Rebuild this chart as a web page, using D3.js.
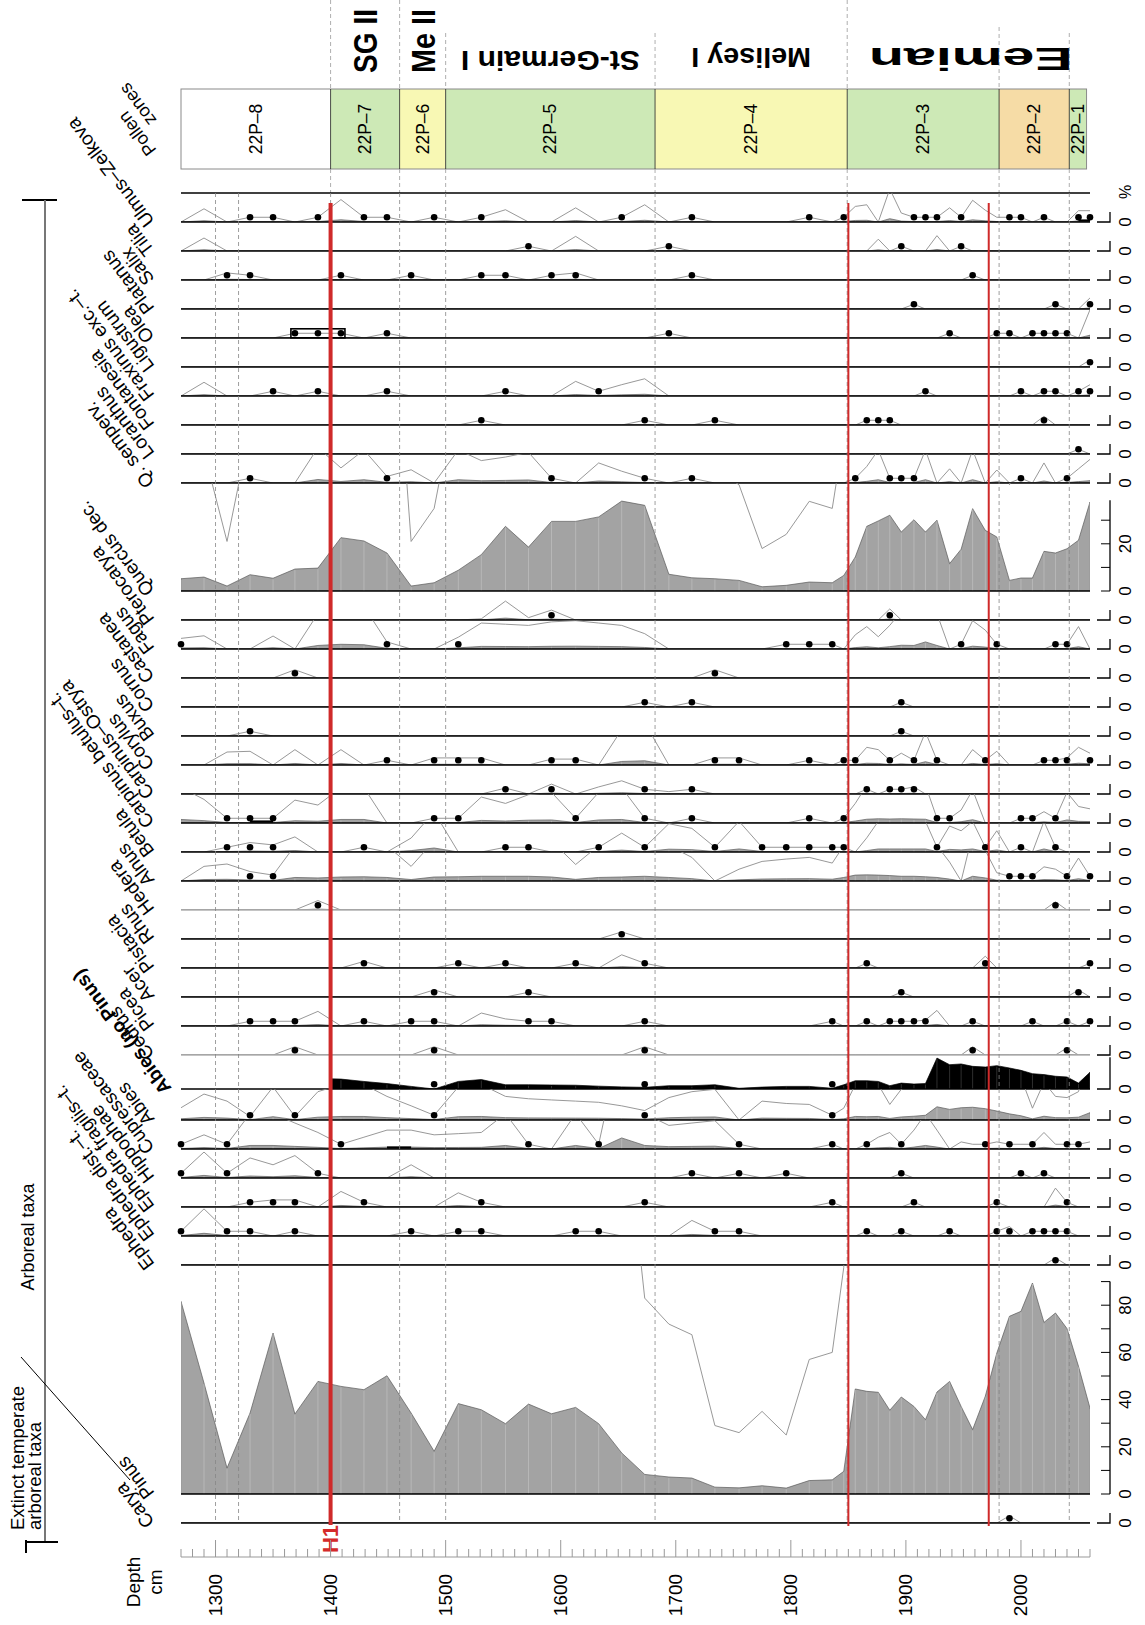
<!DOCTYPE html>
<html><head><meta charset="utf-8">
<script src="https://cdn.jsdelivr.net/npm/d3@7"></script>
<style>
body{margin:0;background:#fff}
svg text{font-family:"Liberation Sans",Arial,Helvetica,sans-serif;fill:#000}
</style>
</head><body>
<script>
// ---------- DATA ----------
const depths = [1270,1290,1310,1330,1350,1369,1389,1409,1429,1449,
 1470,1490,1511,1531,1552,1572,1592,1613,1633,1653,
 1673,1694,1714,1734,1755,1775,1796,1816,1836,1846,
 1856,1866,1876,1886,1896,1907,1917,1927,1938,1948,
 1958,1969,1979,1990,2000,2010,2020,2030,2040,2050,2060];

const ulmus = [0,0.56,0,0.2,0.2,0,0.2,0.95,0.2,0.2, 0,0.2,0,0.2,0.52,0,0,0.6,0,0.2, 0.73,0,0.2,0,0,0,0,0.2,0,0.2, 0.66,0.73,0,1.4,0.38,0.2,0.2,0.2,0.6,0.2, 0.92,0.5,0.2,0.2,0.2,0,0.2,0,0,0.48, 0.48];
const ulmusDots = [3,4,6,8,9,11,13,19,22,27,29,35,36,37,39,43,44,46,49,50];
const tilia = [0,0.55,0,0,0,0,0,0,0,0, 0,0,0,0,0,0.2,0,0.62,0,0, 0,0.2,0,0,0,0,0,0,0,0, 0,0,0.5,0,0.2,0,0,0.65,0,0.2, 0,0,0,0,0,0,0,0,0,0, 0];
const tiliaDots = [15,21,34,39];
const salix = [0,0,0.3,0.2,0,0,0,0.2,0,0, 0.2,0,0,0.2,0.2,0,0.2,0.3,0,0, 0,0,0.2,0,0,0,0,0,0,0, 0,0,0,0,0,0,0,0,0,0, 0.2,0,0,0,0,0,0,0,0,0, 0];
const salixDots = [2,3,7,10,13,14,16,17,22,40];
const platanus = [0,0,0,0,0,0,0,0,0,0, 0,0,0,0,0,0,0,0,0,0, 0,0,0,0,0,0,0,0,0,0, 0,0,0,0,0,0.2,0,0,0,0, 0,0,0,0,0,0,0,0.2,0,0, 0.47];
const platanusDots = [35,47,50];
const olea = [0,0,0,0,0,0.2,0.2,0.2,0,0.2, 0,0,0,0,0,0,0,0,0,0, 0,0.2,0,0,0,0,0,0,0,0, 0,0,0,0,0,0,0,0,0.2,0, 0,0,0.2,0.2,0,0.2,0.2,0.2,0.2,0, 1.2];
const oleaDots = [5,6,7,9,21,38,42,43,45,46,47,48];
const ligustrum = [0,0,0,0,0,0,0,0,0,0, 0,0,0,0,0,0,0,0,0,0, 0,0,0,0,0,0,0,0,0,0, 0,0,0,0,0,0,0,0,0,0, 0,0,0,0,0,0,0,0,0,0, 0.3];
const ligustrumDots = [50];
const fraxinus = [0,0.58,0,0,0.2,0,0.2,0,0,0.2, 0,0,0,0,0.2,0,0,0.62,0.2,0.48, 0.73,0,0,0,0,0,0,0,0,0, 0,0,0,0,0,0,0.2,0,0,0, 0,0,0,0,0.2,0,0.2,0.2,0,0.2, 0.48];
const fraxinusDots = [4,6,9,14,18,36,44,46,47,49,50];
const fontanesia = [0,0,0,0,0,0,0,0,0,0, 0,0,0,0.2,0,0,0,0,0,0, 0.2,0,0,0.2,0,0,0,0,0,0, 0,0.2,0.2,0.2,0,0,0,0,0,0, 0,0,0,0,0,0,0.37,0,0,0, 0];
const fontanesiaDots = [13,20,23,31,32,33,46];
const loranthus = [0,0,0,0,0,0,0,0,0,0, 0,0,0,0,0,0,0,0,0,0, 0,0,0,0,0,0,0,0,0,0, 0,0,0,0,0,0,0,0,0,0, 0,0,0,0,0,0,0,0,0,0.2, 0];
const loranthusDots = [49];
const qSemperv = [0,0,0,0.2,0,0,1.5,0.64,1.4,0.28, 0.56,0,1.4,0.95,1.1,1.3,0.2,0,0.85,0.5, 0.2,0,0.2,0,0,0,0,0,0,0, 0.2,0.7,1.4,0.2,0.2,0.2,1.4,0,0.6,0, 1.4,0,0.55,0,0.2,0,0.85,0,0.2,0.6, 1.0];
const qSempervDots = [3,9,16,20,22,30,33,34,35,44,48];
const quercus = [5.2,5.9,2.1,6.9,5.4,9.3,9.7,22.6,21.2,16.1, 2.1,3.5,8.8,15.4,27.4,18.6,29.5,29.5,31.4,38.1, 36.3,7.1,5.6,5.2,4.5,1.8,2.4,3.8,3.5,6.6, 14.4,27.4,29.7,32.1,25,30.2,25,30,11.6,17.7, 34.9,25.7,22.9,4.5,5.5,5.5,16.8,16.1,17.9,21.5, 37.7];
const pterocarya = [0,0,0,0,0,0,0,0,0,0, 0,0,0,0.05,0.8,0.1,0.42,0,0,0, 0,0,0,0,0,0,0,0,0,0, 0,0,0,0.47,0,0,0,0,0,0, 0,0,0,0,0,0,0,0,0,0, 0];
const pterocaryaDots = [16,33];
const fagus = [0.45,0.56,0,0,0.55,0,1.5,2.0,1.8,0.3, 0,0,0.5,1.1,1.05,1.0,1.15,1.2,1.1,1.0, 0.65,0,0,0,0,0,0.2,0.2,0.2,0, 0.6,0.95,0.52,1.0,1.6,1.5,3.0,1.5,0,0.2, 1.2,0.8,0.2,0,0,0,0,0.2,0.2,0.95, 0];
const fagusDots = [0,9,12,26,27,28,39,42,47,48];
const castanea = [0,0,0,0,0,0.35,0,0,0,0, 0,0,0,0,0,0,0,0,0,0, 0,0,0,0.35,0,0,0,0,0,0, 0,0,0,0,0,0,0,0,0,0, 0,0,0,0,0,0,0,0,0,0, 0];
const castaneaDots = [5,23];
const cornus = [0,0,0,0,0,0,0,0,0,0, 0,0,0,0,0,0,0,0,0,0, 0.2,0,0.2,0,0,0,0,0,0,0, 0,0,0,0,0.2,0,0,0,0,0, 0,0,0,0,0,0,0,0,0,0, 0];
const cornusDots = [20,22,34];
const buxus = [0,0,0,0.2,0,0,0,0,0,0, 0,0,0,0,0,0,0,0,0,0, 0,0,0,0,0,0,0,0,0,0, 0,0,0,0,0.2,0,0,0,0,0, 0,0,0,0,0,0,0,0,0,0, 0];
const buxusDots = [3,34];
const corylus = [0,0,0.55,0.58,0,0.65,0,0.65,0,0.2, 0,0.3,0.3,0.3,0,0,0.25,0.25,0,1.5, 1.8,0,0,0.3,0.3,0,0,0.2,0,0.2, 0.2,0.75,0.65,0.2,0.5,0.2,1.4,0.2,0,0, 0.65,0.2,0.58,0,0,0,0.2,0.2,0.3,0.75, 0.5];
const corylusDots = [9,11,12,13,16,17,23,24,27,29,30,33,35,37,41,46,47,48,50];
const carpOstrya = [0,0,0,0,0,0,0,0,0,0, 0,0,0,0,0.25,0,0.42,0,0.3,0.56, 0.2,0.1,0.2,0,0,0,0,0,0,0, 0,0.2,0,0.2,0.2,0.3,0,0,0,0, 0,0,0,0,0,0,0,0,0,0, 0];
const carpOstryaDots = [14,16,20,22,31,33,34,35];
const carpBetulus = [1.5,1.0,0.2,0.2,0.2,0.97,0.76,1.5,1.5,0, 0,0.2,0.2,1.1,0.83,1.2,1.3,0.2,1.3,1.5, 0.2,0,0.2,0,0,0,0,0.2,0,0.2, 0.83,1.6,1.8,1.7,1.8,1.7,1.6,0.2,0.2,0.55, 1.4,0,0,0,0.2,0.2,0.48,0.2,1.3,0.7, 0.6];
const carpBetulusDots = [2,3,4,11,12,17,20,22,27,29,37,38,44,45,47];
const betula = [0,0,0.2,0.4,0.3,0.64,0,0,0.2,0, 0.59,1.7,0,0,0.2,0.2,0,0,0.2,0.8, 0.2,1.2,1.0,0.2,1.3,0.2,0.2,0.2,0.2,0.2, 0,0.6,1.3,1.3,1.3,1.3,1.3,0.2,1.1,0.9, 1.3,0.2,0.9,0,0.2,0,1.3,0.2,0,0, 0];
const betulaDots = [2,3,4,8,14,15,18,20,23,25,26,27,28,29,37,41,44,47];
const alnus = [0,0.62,0.72,0.4,0.25,1.5,1.3,1.7,1.8,1.5, 0.62,1.7,1.8,2.0,2.0,2.0,1.7,0.7,1.5,1.7, 2.0,1.5,1.0,0,0.5,0.83,0.93,1.0,0.76,1.5, 2.5,2.6,2.5,2.3,2.0,2.0,1.8,1.5,0.8,0, 2.0,1.3,0.35,0.2,0.2,0.2,0.6,0.5,0.2,0.97, 0.2];
const alnusDots = [3,4,43,44,45,48,50];
const hedera = [0,0,0,0,0,0,0.4,0,0,0, 0,0,0,0,0,0,0,0,0,0, 0,0,0,0,0,0,0,0,0,0, 0,0,0,0,0,0,0,0,0,0, 0,0,0,0,0,0,0,0.35,0,0, 0];
const hederaDots = [6,47];
const rhus = [0,0,0,0,0,0,0,0,0,0, 0,0,0,0,0,0,0,0,0,0.3, 0,0,0,0,0,0,0,0,0,0, 0,0,0,0,0,0,0,0,0,0, 0,0,0,0,0,0,0,0,0,0, 0];
const rhusDots = [19];
const pistacia = [0,0,0,0,0,0,0,0,0.28,0, 0,0,0.2,0,0.2,0,0,0.2,0,0.56, 0.2,0,0,0,0,0,0,0,0,0, 0,0.2,0,0,0,0,0,0,0,0, 0,0.5,0,0,0,0,0,0,0,0, 0.2];
const pistaciaDots = [8,12,14,17,20,31,41,50];
const acer = [0,0,0,0,0,0,0,0,0,0, 0,0.3,0,0,0,0.2,0,0,0,0, 0,0,0,0,0,0,0,0,0,0, 0,0,0,0,0.2,0,0,0,0,0, 0,0,0,0,0,0,0,0,0,0.3, 0];
const acerDots = [11,15,34,49];
const picea = [0,0,0,0.2,0.2,0.2,0.62,0,0.2,0, 0.2,0.2,0,0.55,0.3,0.2,0.2,0,0,0, 0.2,0,0,0,0,0,0,0,0.2,0, 0,0.2,0,0.2,0.2,0.2,0.25,0.66,0,0, 0.2,0,0,0,0,0.2,0,0,0.2,0, 0.2];
const piceaDots = [3,4,5,8,10,11,15,16,20,28,31,33,34,35,36,40,45,48,50];
const cedrus = [0,0,0,0,0,0.35,0,0,0,0, 0,0.35,0,0,0,0,0,0,0,0, 0.35,0,0,0,0,0,0,0,0,0, 0,0,0,0,0,0,0,0,0,0, 0.35,0,0,0,0,0,0,0,0.3,0, 0];
const cedrusDots = [5,11,20,40,48];
const abiesNoPinus = [null,null,null,null,null,null,4.4,4.2,3.2,2.3, 1.1,0,3.2,4.0,1.8,1.8,1.7,1.6,1.2,0.9, 0.7,1.4,1.4,1.8,0.3,0.8,1.1,1.1,0.3,1.8, 3.5,3.5,3.2,1.4,2.5,2.1,2.3,13.1,10.3,10.6, 9.6,9.3,9.9,8.9,7.9,6.5,6.1,5.4,5.1,2.5, 7.1];
const abiesNoPinusDots = [11,20,28];
const abies = [0.52,1.1,0.8,0.15,1.4,0.15,1.2,1.5,1.5,1.0, 0.6,0.2,1.4,1.5,1.0,0.9,0.85,0.8,0.75,0.6, 0.4,0.95,1.2,1.3,0,0.8,0.7,0.66,0.2,0.5, 1.5,1.4,1.5,0.66,1.3,1.6,2.0,5.6,4.5,5.2, 5.4,4.8,3.8,2.6,1.8,0.5,1.6,1.0,0.95,1.2, 3.1];
const abiesDots = [3,5,11,20,28];
const cupressaceae = [0.2,0.6,0.2,1.5,1.5,1.1,0.7,0.2,0.5,0.8, 0.8,0.6,0.65,0.7,1.5,0.2,0,1.5,0.2,4.7, 1.5,1.0,1.1,1.2,0.2,0,0,0,0.2,0, 0,0.2,0.5,0.7,0.2,0.8,1.5,0.8,0,0.3, 0.2,0.2,0.3,0.2,0.2,0.2,0.7,0.2,0.2,0.2, 0.3];
const cupressaceaeDots = [0,2,7,15,18,24,28,31,34,41,43,45,48,49];
const hippophae = [0.2,1.1,0.2,0.85,0.56,0.95,0.2,0,0,0, 0.56,0,0,0,0,0,0,0,0,0, 0,0,0.2,0,0.2,0,0.2,0,0,0, 0,0,0,0,0.2,0,0,0,0,0, 0,0,0,0,0.2,0,0.2,0,0,0, 0];
const hippophaeDots = [0,2,6,22,24,26,34,44,46];
const ephFragilis = [0,0,0,0.2,0.3,0.3,0,0.66,0.2,0, 0,0,0.6,0.2,0,0,0,0,0,0, 0.2,0,0,0,0,0,0,0,0.2,0, 0,0,0,0,0,0.2,0,0,0,0, 0,0,0.2,0,0,0,0,0.8,0.2,0, 0];
const ephFragilisDots = [3,4,5,8,13,20,28,35,42,48];
const ephDist = [0.2,1.15,0.2,0.2,0,0.2,0,0,0,0, 0.2,0,0.2,0.2,0,0,0,0.2,0.2,0, 0,0,0.66,0.2,0.2,0,0,0,0,0, 0,0.2,0,0,0.2,0,0,0,0.2,0, 0,0,0.2,0.4,0,0.2,0.2,0.2,0.2,0, 0];
const ephDistDots = [0,2,3,5,10,12,13,17,18,23,24,31,34,38,42,43,45,46,47,48];
const ephedraOther = [0,0,0,0,0,0,0,0,0,0, 0,0,0,0,0,0,0,0,0,0, 0,0,0,0,0,0,0,0,0,0, 0,0,0,0,0,0,0,0,0,0, 0,0,0,0,0,0,0,0.3,0,0, 0];
const ephedraOtherDots = [47];
const pinus = [81.6,47.0,11.0,34.3,68.2,33.9,47.7,45.6,44.2,50.1, 34.3,18.1,38.3,35.7,29.8,38.1,34.0,36.7,29.8,17.4, 8.3,7.2,6.75,2.9,2.6,3.5,2.5,5.7,6.0,9.6, 44.5,43.5,43.1,35.5,41.1,37.1,31.5,43.2,47.7,37.1, 27.3,41.4,59.7,75.3,77.4,89.4,72.7,76.7,70.1,54.1, 36.4];
const carya = [0,0,0,0,0,0,0,0,0,0, 0,0,0,0,0,0,0,0,0,0, 0,0,0,0,0,0,0,0,0,0, 0,0,0,0,0,0,0,0,0,0, 0,0,0,0.3,0,0,0,0,0,0, 0];
const caryaDots = [43];
// runs of consecutive presence marks joined by a bar: [taxon, first sample, last sample]
const presenceRuns = [["Olea",5,7],["Carpinus betulus–t.",3,4],["Ulmus–Zelkova",49,50],["Cupressaceae",9,10]];

const zoneNames = ["22P–8","22P–7","22P–6","22P–5","22P–4","22P–3","22P–2","22P–1"];
const zoneBounds = [1270,1400,1460,1500,1682,1849,1981,2042,2057];
const periodNames = ["SG II","Me II","St-Germain I","Melisey I","Eemian"];
const periodBounds = [[1400,1460],[1460,1500],[1500,1682],[1682,1849],[1849,2057]];
const dashDepths = [1300,1320,1400,1460,1500,1682,1849,1981,2042];
const eventDepths = [1400,1850,1972];
const depthTicks = [1300,1400,1500,1600,1700,1800,1900,2000];

// ---------- TABLE ----------
const taxa = [
 {name:"Ulmus–Zelkova", v:ulmus, d:ulmusDots},
 {name:"Tilia", v:tilia, d:tiliaDots},
 {name:"Salix", v:salix, d:salixDots},
 {name:"Platanus", v:platanus, d:platanusDots},
 {name:"Olea", v:olea, d:oleaDots},
 {name:"Ligustrum", v:ligustrum, d:ligustrumDots},
 {name:"Fraxinus exc.–t.", v:fraxinus, d:fraxinusDots},
 {name:"Fontanesia", v:fontanesia, d:fontanesiaDots},
 {name:"Loranthus", v:loranthus, d:loranthusDots},
 {name:"Q. semperv.", v:qSemperv, d:qSempervDots},
 {name:"Quercus dec.", v:quercus, d:[], axisMax:38.5, ticks:[0,10,20,30], labels:[0,20]},
 {name:"Pterocarya", v:pterocarya, d:pterocaryaDots},
 {name:"Fagus", v:fagus, d:fagusDots},
 {name:"Castanea", v:castanea, d:castaneaDots},
 {name:"Cornus", v:cornus, d:cornusDots},
 {name:"Buxus", v:buxus, d:buxusDots},
 {name:"Corylus", v:corylus, d:corylusDots},
 {name:"Carpinus–Ostrya", v:carpOstrya, d:carpOstryaDots},
 {name:"Carpinus betulus–t.", v:carpBetulus, d:carpBetulusDots},
 {name:"Betula", v:betula, d:betulaDots},
 {name:"Alnus", v:alnus, d:alnusDots},
 {name:"Hedera", v:hedera, d:hederaDots, greyBase:true},
 {name:"Rhus", v:rhus, d:rhusDots},
 {name:"Pistacia", v:pistacia, d:pistaciaDots},
 {name:"Acer", v:acer, d:acerDots},
 {name:"Picea", v:picea, d:piceaDots},
 {name:"Cedrus", v:cedrus, d:cedrusDots, greyBase:true},
 {name:"Abies (no Pinus)", v:abiesNoPinus, d:abiesNoPinusDots, black:true, bold:true, axisMax:13.5, from:1400},
 {name:"Abies", v:abies, d:abiesDots},
 {name:"Cupressaceae", v:cupressaceae, d:cupressaceaeDots},
 {name:"Hippophae", v:hippophae, d:hippophaeDots},
 {name:"Ephedra fragilis–t.", v:ephFragilis, d:ephFragilisDots},
 {name:"Ephedra dist.–t.", v:ephDist, d:ephDistDots},
 {name:"Ephedra", v:ephedraOther, d:ephedraOtherDots},
 {name:"Pinus", v:pinus, d:[], axisMax:90, ticks:[0,10,20,30,40,50,60,70,80,90], labels:[0,20,40,60,80]},
 {name:"Carya", v:carya, d:caryaDots}
];
const rowHeight = {"Quercus dec.":108, "Abies (no Pinus)":34, "Abies":31, "Pinus":229};

// ---------- LAYOUT ----------
const W = 1145, H = 1625;
const svg = d3.select("body").append("svg").attr("width", W).attr("height", H);
const defs = svg.append("defs");
const x = d3.scaleLinear().domain([1270, 2060]).range([181, 1090]);
const pct = d3.scaleLinear().domain([0, 100]).range([0, 236]);
const EXAG = 10;
const plotTop = 193, axisY = 1557, redTop = 203, DOT_OFF = 4.7;
let yCur = plotTop;
taxa.forEach(t => { t.h = rowHeight[t.name] || 29; t.top = yCur; t.base = yCur + t.h; yCur = t.base; });
const plotBottom = taxa[taxa.length-1].base;
const byName = Object.fromEntries(taxa.map(t => [t.name, t]));

// ---------- ZONE BAR ----------
const zoneFill = ["#ffffff","#cde9b6","#f8f8b4","#cde9b6","#f8f8b4","#cde9b6","#f6dca6","#cde9b6"];
const zb = svg.append("g");
zoneNames.forEach((z,i) => {
  const x0 = x(zoneBounds[i]), x1 = x(zoneBounds[i+1]);
  zb.append("rect").attr("x", x0).attr("y", 89).attr("width", x1-x0).attr("height", 80)
    .attr("fill", zoneFill[i]).attr("stroke", "none");
  zb.append("text").attr("transform", `translate(${(x0+x1)/2},129) rotate(-90)`)
    .attr("text-anchor","middle").attr("dominant-baseline","central").attr("font-size",17.5).text(z);
});
zb.append("rect").attr("x", x(zoneBounds[0])).attr("y", 89).attr("width", x(zoneBounds[8])-x(zoneBounds[0])).attr("height", 80)
  .attr("fill","none").attr("stroke","#8a8a8a").attr("stroke-width",1);
zoneBounds.slice(1,8).forEach(b => {
  zb.append("line").attr("x1", x(b)).attr("x2", x(b)).attr("y1", 89).attr("y2", 169).attr("stroke","#222").attr("stroke-width",0.8);
});

const headStart = {1400:0,1460:0,1500:33,1682:33,1849:0,1981:27,2042:33};
zoneBounds.slice(1,8).forEach(b => {
  svg.append("line").attr("x1", x(b)).attr("x2", x(b)).attr("y1", headStart[b]).attr("y2", 89)
    .attr("stroke","#9a9a9a").attr("stroke-width",0.8).attr("stroke-dasharray","4,3");
  svg.append("line").attr("x1", x(b)).attr("x2", x(b)).attr("y1", 169).attr("y2", plotTop)
    .attr("stroke","#9a9a9a").attr("stroke-width",0.8).attr("stroke-dasharray","4,3");
});

const periodStyle = [
  {rot:-90, size:34, len:64, cy:41},
  {rot:-90, size:34, len:64, cy:41},
  {rot:180, size:27, len:179, cy:60},
  {rot:180, size:27, len:120, cy:57},
  {rot:180, size:31, len:204, cy:59}
];
periodNames.forEach((p,i) => {
  const s = periodStyle[i];
  const cx = (x(periodBounds[i][0]) + x(periodBounds[i][1]))/2 + (i===4 ? 4 : 0);
  const t = svg.append("text").attr("text-anchor","middle").attr("dominant-baseline","central")
    .attr("font-size", s.size).attr("font-weight","bold").text(p);
  const nat = t.node().getComputedTextLength();
  t.attr("transform", `translate(${cx},${s.cy}) rotate(${s.rot}) scale(${s.len/nat},1)`);
});

// ---------- ROWS ----------
const plot = svg.append("g");
plot.append("line").attr("x1", x(1270)).attr("x2", x(2060)).attr("y1", plotTop).attr("y2", plotTop)
  .attr("stroke","#000").attr("stroke-width",1.3);

taxa.forEach((t,i) => {
  const id = "clip"+i;
  const cx0 = x(t.from || 1270);
  defs.append("clipPath").attr("id", id).append("rect")
    .attr("x", cx0).attr("y", t.top).attr("width", x(2060)-cx0).attr("height", t.h);
  const g = plot.append("g").attr("clip-path", `url(#${id})`);
  const pts = t.v.map((v,j) => ({d: depths[j], v}));
  if (!t.black) {
    g.append("path").datum(pts)
      .attr("d", d3.line().defined(p => p.v != null).x(p => x(p.d)).y(p => t.base - pct(p.v*EXAG)))
      .attr("fill","none").attr("stroke","#8c8c8c").attr("stroke-width",0.9);
  }
  const area = d3.area().defined(p => p.v != null).x(p => x(p.d)).y0(t.base).y1(p => t.base - pct(p.v));
  g.append("path").datum(pts).attr("d", area)
    .attr("fill", t.black ? "#000" : "#a3a3a3").attr("stroke", t.black ? "#000" : "#5a5a5a").attr("stroke-width",0.7);
  g.selectAll(null).data(pts.filter(p => p.v != null && p.v > 0)).enter().append("line")
    .attr("x1", p => x(p.d)).attr("x2", p => x(p.d))
    .attr("y1", t.base).attr("y2", p => t.base - pct(p.v) + 1)
    .attr("stroke", t.black ? "#3a3a3a" : "#bdbdbd").attr("stroke-width",0.8);
  plot.append("line").attr("x1", x(1270)).attr("x2", x(2060)).attr("y1", t.base).attr("y2", t.base)
    .attr("stroke", t.greyBase ? "#b0b0b0" : "#000").attr("stroke-width", 1.3);
  plot.selectAll(null).data(t.d).enter().append("circle")
    .attr("cx", j => x(depths[j])).attr("cy", t.base - DOT_OFF).attr("r", 3.3).attr("fill","#000");
  plot.append("text")
    .attr("transform", `translate(${t.bold ? 172 : 155},${t.base - 1}) rotate(-127)`)
    .attr("font-size", 19).attr("font-weight", t.bold ? "bold" : null).text(t.name);
  const ax = plot.append("g");
  if (t.ticks) {
    ax.append("line").attr("x1",1110).attr("x2",1110).attr("y1",t.base).attr("y2",t.base - pct(t.axisMax)).attr("stroke","#000").attr("stroke-width",1.3);
    t.ticks.forEach(k => ax.append("line").attr("x1",1101).attr("x2",1110).attr("y1",t.base-pct(k)).attr("y2",t.base-pct(k)).attr("stroke","#000").attr("stroke-width",1));
    t.labels.forEach(k => ax.append("text").attr("transform",`translate(1125,${t.base-pct(k)}) rotate(-90)`)
      .attr("text-anchor","middle").attr("dominant-baseline","central").attr("font-size",17).text(k));
  } else {
    const top = t.axisMax ? t.base - pct(t.axisMax) : t.base - 10;
    ax.append("path").attr("d", `M1097,${t.base}H1110V${top}`).attr("fill","none").attr("stroke","#000").attr("stroke-width",1.3);
    ax.append("text").attr("transform",`translate(1125,${t.base}) rotate(-90)`)
      .attr("text-anchor","middle").attr("dominant-baseline","central").attr("font-size",17).text("0");
  }
});

presenceRuns.forEach(([nm, a, b]) => {
  const t = byName[nm];
  if (nm === "Olea") {
    plot.append("rect").attr("x", x(depths[a]) - 4).attr("y", t.base - DOT_OFF - 4.5)
      .attr("width", x(depths[b]) - x(depths[a]) + 8).attr("height", 9)
      .attr("fill","none").attr("stroke","#000").attr("stroke-width",1.6);
  } else {
    plot.append("line").attr("x1", x(depths[a])).attr("x2", x(depths[b]))
      .attr("y1", t.base - 1.5).attr("y2", t.base - 1.5).attr("stroke","#000").attr("stroke-width",2.2);
  }
});

svg.append("text").attr("transform","translate(1125,192) rotate(-90)").attr("text-anchor","middle")
  .attr("dominant-baseline","central").attr("font-size",16).text("%");

dashDepths.forEach(dd => {
  svg.append("line").attr("x1", x(dd)).attr("x2", x(dd)).attr("y1", plotTop).attr("y2", plotBottom)
    .attr("stroke","#858585").attr("stroke-width",0.8).attr("stroke-dasharray","4,3");
});

eventDepths.forEach((e,i) => {
  svg.append("line").attr("x1", x(e)).attr("x2", x(e)).attr("y1", redTop).attr("y2", i===0 ? plotBottom+2 : plotBottom+3)
    .attr("stroke","#cf2a2a").attr("stroke-width", i===0 ? 4 : 2);
});
svg.append("text").attr("transform", `translate(${x(1400)},1539) rotate(-90)`).attr("text-anchor","middle")
  .attr("dominant-baseline","central").attr("font-size",22).attr("font-weight","bold").style("fill","#d42a2a").text("H1");

// ---------- DEPTH AXIS ----------
const axg = svg.append("g");
axg.append("line").attr("x1", x(1270)).attr("x2", x(2060)).attr("y1", axisY).attr("y2", axisY).attr("stroke","#999").attr("stroke-width",1.2);
axg.selectAll(null).data(d3.range(1270, 2061, 10)).enter().append("line")
  .attr("x1", d => x(d)).attr("x2", d => x(d)).attr("y1", axisY)
  .attr("y2", d => axisY - (d % 100 === 0 ? 17 : 8)).attr("stroke","#999").attr("stroke-width",1);
axg.selectAll(null).data(depthTicks).enter().append("text")
  .attr("transform", d => `translate(${x(d)},1595) rotate(-90)`).attr("text-anchor","middle")
  .attr("dominant-baseline","central").attr("font-size",19).text(d => d);
axg.append("text").attr("transform","translate(133,1582) rotate(-90)").attr("text-anchor","middle")
  .attr("dominant-baseline","central").attr("font-size",19).text("Depth");
axg.append("text").attr("transform","translate(155,1582) rotate(-90)").attr("text-anchor","middle")
  .attr("dominant-baseline","central").attr("font-size",19).text("cm");

// ---------- LEFT GROUP ANNOTATIONS ----------
const lg = svg.append("g");
lg.append("line").attr("x1",22).attr("x2",57).attr("y1",200).attr("y2",200).attr("stroke","#000").attr("stroke-width",2);
lg.append("line").attr("x1",45).attr("x2",45).attr("y1",200).attr("y2",1542).attr("stroke","#777").attr("stroke-width",2);
lg.append("line").attr("x1",25).attr("x2",58).attr("y1",1542).attr("y2",1542).attr("stroke","#000").attr("stroke-width",2);
lg.append("line").attr("x1",26).attr("x2",26).attr("y1",1540).attr("y2",1553).attr("stroke","#000").attr("stroke-width",2);
lg.append("line").attr("x1",21).attr("x2",130).attr("y1",1357).attr("y2",1480).attr("stroke","#000").attr("stroke-width",1);
lg.append("text").attr("transform","translate(28,1237) rotate(-90)").attr("text-anchor","middle")
  .attr("dominant-baseline","central").attr("font-size",18).text("Arboreal taxa");
lg.append("text").attr("transform","translate(17,1530) rotate(-90)").attr("text-anchor","start")
  .attr("dominant-baseline","central").attr("font-size",18.5).text("Extinct temperate");
lg.append("text").attr("transform","translate(34,1530) rotate(-90)").attr("text-anchor","start")
  .attr("dominant-baseline","central").attr("font-size",18.5).text("arboreal taxa");
lg.append("text").attr("transform","translate(157,150) rotate(-127)").attr("font-size",18).text("Pollen");
lg.append("text").attr("transform","translate(157,120) rotate(-127)").attr("font-size",18).text("zones");
</script>
</body></html>
